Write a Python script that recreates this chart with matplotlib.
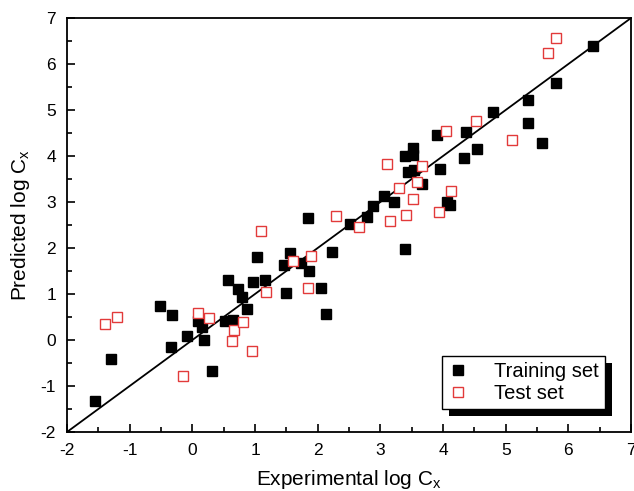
import matplotlib
matplotlib.use("Agg")
import matplotlib.pyplot as plt
import matplotlib.patheffects as pe
import numpy as np
from matplotlib.ticker import MultipleLocator

plt.rcParams["font.family"] = ["Liberation Sans", "DejaVu Sans"]
plt.rcParams["axes.unicode_minus"] = False

train_x = [-1.55, -1.30, -0.52, -0.32, -0.34, -0.09, 0.31, 0.09, 0.16, 0.19,
           0.52, 0.65, 0.87, 0.80, 0.73, 0.57, 0.96, 1.03, 1.16, 1.49,
           2.05, 2.13, 1.47, 1.56, 1.73, 1.86, 1.84, 2.23, 2.51, 2.78,
           2.88, 3.06, 3.21, 3.39, 3.52, 3.52, 3.39, 3.44, 3.53, 3.95,
           3.66, 4.06, 4.11, 3.91, 4.36, 4.55, 4.33, 4.79, 5.36, 5.36,
           5.58, 5.80, 6.40]
train_y = [-1.33, -0.42, 0.74, 0.54, -0.15, 0.09, -0.67, 0.41, 0.28, 0.00,
           0.41, 0.43, 0.67, 0.94, 1.10, 1.30, 1.27, 1.81, 1.30, 1.03,
           1.14, 0.56, 1.62, 1.90, 1.67, 1.50, 2.65, 1.91, 2.52, 2.68,
           2.91, 3.14, 2.99, 1.98, 4.18, 4.02, 4.00, 3.65, 3.70, 3.71,
           3.39, 2.99, 2.93, 4.45, 4.53, 4.16, 3.96, 4.96, 5.22, 4.71,
           4.28, 5.58, 6.39]

test_x = [-1.39, -1.21, -0.15, 0.09, 0.26, 0.67, 0.63, 0.81, 0.95, 1.17,
          1.09, 1.84, 1.61, 1.90, 2.29, 2.66, 3.15, 3.10, 3.30, 3.41,
          3.52, 3.59, 3.67, 3.93, 4.13, 4.05, 4.53, 5.10, 5.67, 5.80]
test_y = [0.35, 0.49, -0.78, 0.58, 0.47, 0.22, -0.02, 0.40, -0.25, 1.04,
          2.37, 1.14, 1.72, 1.83, 2.70, 2.45, 2.59, 3.83, 3.31, 2.72,
          3.06, 3.43, 3.79, 2.78, 3.24, 4.55, 4.76, 4.35, 6.23, 6.57]

lims = [-2, 7]

fig = plt.figure(figsize=(6.34, 4.91), dpi=100)
ax = fig.add_axes([0.1057, 0.1202, 0.8896, 0.8431])

ax.plot(lims, lims, color="black", linewidth=1.3, zorder=2)
ax.plot(train_x, train_y, linestyle="none", marker="s", markersize=7.2,
        color="black", label="Training set", zorder=3)
ax.plot(test_x, test_y, linestyle="none", marker="s", markersize=7.0,
        markerfacecolor="white", markeredgecolor="#e23a3a", markeredgewidth=1.0,
        label="Test set", zorder=3)

ax.set_xlim(lims)
ax.set_ylim(lims)
ax.xaxis.set_major_locator(MultipleLocator(1))
ax.yaxis.set_major_locator(MultipleLocator(1))
ax.xaxis.set_minor_locator(MultipleLocator(0.5))
ax.yaxis.set_minor_locator(MultipleLocator(0.5))
ax.tick_params(which="both", direction="in", top=False, right=False, labelsize=12.5)
ax.tick_params(which="major", length=6, width=1.2, pad=8)
ax.tick_params(which="minor", length=3.5, width=1.2)
for s in ax.spines.values():
    s.set_linewidth(1.3)

ax.set_xlabel("Experimental log C$_\\mathregular{x}$", fontsize=15, labelpad=7)
ax.set_ylabel("Predicted log C$_\\mathregular{x}$", fontsize=15, labelpad=6)

leg = ax.legend(loc="lower right", bbox_to_anchor=(0.954, 0.055), borderaxespad=0,
                fancybox=False, edgecolor="black", framealpha=1, fontsize=14.5,
                numpoints=1, handlelength=1.0, handletextpad=1.3,
                borderpad=0.3, labelspacing=0.15)
leg.get_frame().set_linewidth(1.0)
leg.get_frame().set_path_effects([
    pe.SimplePatchShadow(offset=(5, -5), shadow_rgbFace="black", alpha=1.0),
    pe.Normal(),
])

fig.savefig("out.png", dpi=100)
